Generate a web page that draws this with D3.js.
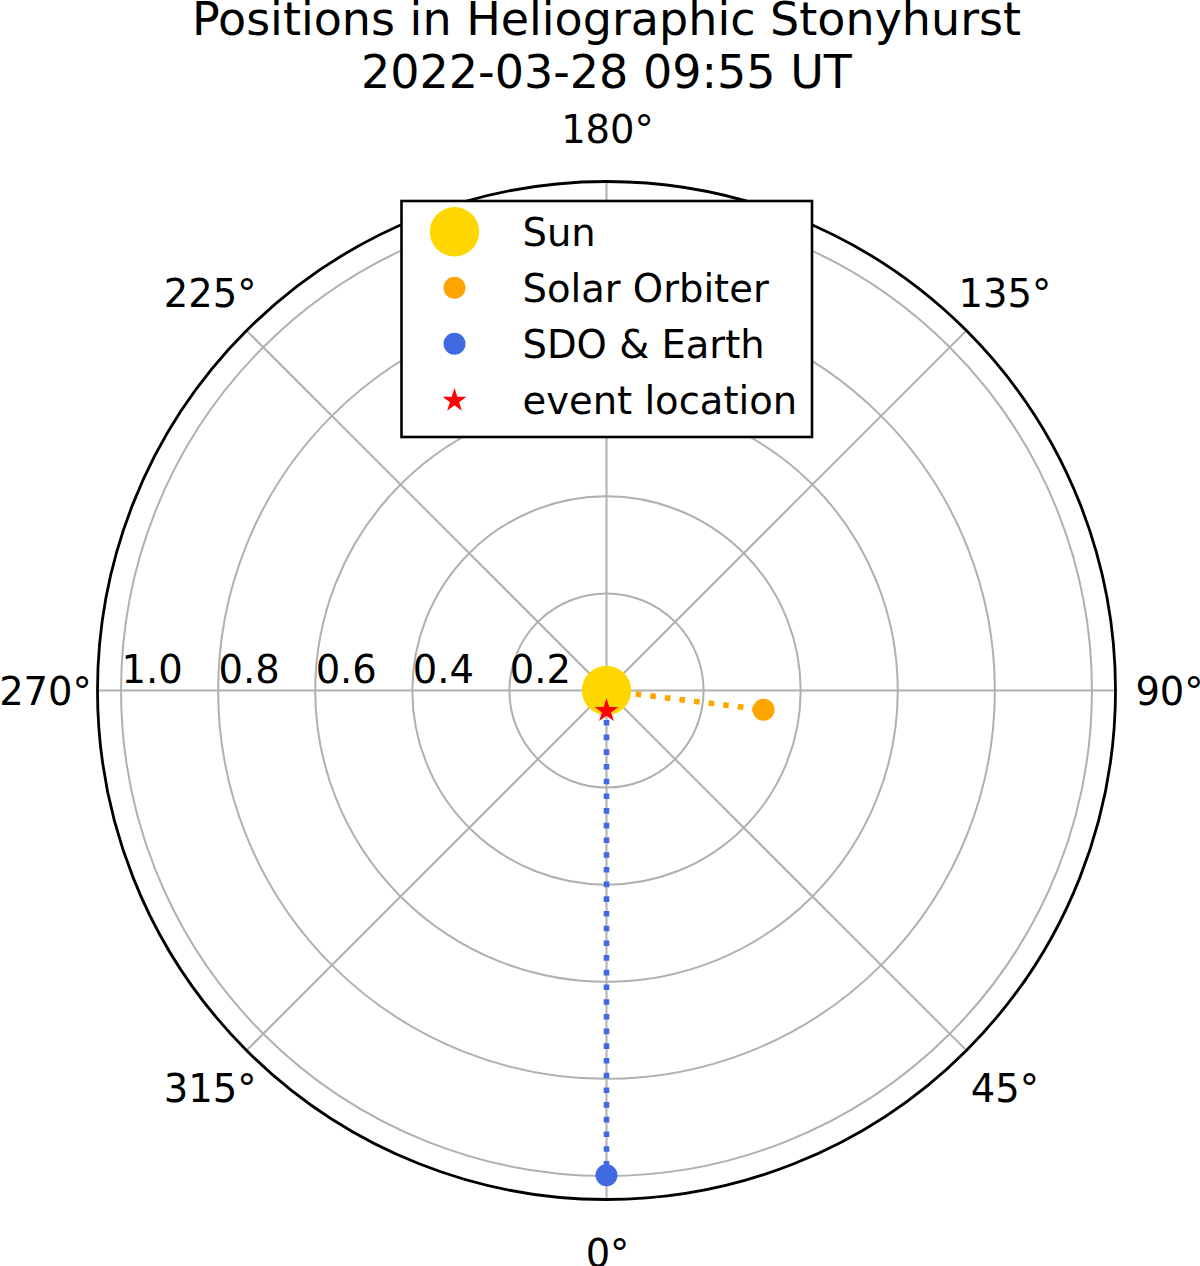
<!DOCTYPE html>
<html>
<head>
<meta charset="utf-8">
<script src="https://cdn.jsdelivr.net/npm/d3@7"></script>
<style>
  html, body { margin: 0; padding: 0; background: #fff; }
  svg { display: block; }
  text { font-family: "DejaVu Sans", sans-serif; fill: #000; }
</style>
</head>
<body>
<script>
// ---- data ----
const titleLines = ["Positions in Heliographic Stonyhurst", "2022-03-28 09:55 UT"];
const bodyNames = ["Sun", "Solar Orbiter", "SDO & Earth"];
const bodyLonDeg = [0, 83.0, 0];          // Stonyhurst longitude (deg)
const bodyDistAU = [0, 0.326, 0.9986];    // distance from Sun (AU)
const eventName = "event location";
const eventLonDeg = [0];
const eventDistAU = [0.042];
const thetaTicks = [0, 45, 90, 135, 180, 225, 270, 315];
const thetaTickLabels = ["0°", "45°", "90°", "135°", "180°", "225°", "270°", "315°"];
const rTicks = [0.2, 0.4, 0.6, 0.8, 1.0];
const rTickLabels = ["0.2", "0.4", "0.6", "0.8", "1.0"];
const rMax = 1.0485;

// ---- layout / style ----
const W = 1200, H = 1266;
const cx = 606.5, cy = 690.5, R = 509;
const colors = { "Sun": "#FFD700", "Solar Orbiter": "#FFA500", "SDO & Earth": "#4169E1", "event": "#FF0000" };
const markerR = { "Sun": 24.7, "Solar Orbiter": 11, "SDO & Earth": 11 };
const tickFont = 38.5, titleFont = 46;

const svg = d3.select("body").append("svg").attr("width", W).attr("height", H);
const g = svg.append("g").attr("transform", `translate(${cx},${cy})`);

const r = d3.scaleLinear().domain([0, rMax]).range([0, R]);
// theta zero at bottom (south), counter-clockwise
const ang = d => Math.PI - d * Math.PI / 180;
const pt = (deg, rad) => d3.pointRadial(ang(deg), rad);

// grid circles
g.selectAll("circle.rgrid").data(rTicks).join("circle")
  .attr("class", "rgrid").attr("r", d => r(d))
  .attr("fill", "none").attr("stroke", "#b0b0b0").attr("stroke-width", 2);
// spokes
g.selectAll("line.tgrid").data(thetaTicks).join("line")
  .attr("class", "tgrid")
  .attr("x1", 0).attr("y1", 0)
  .attr("x2", d => pt(d, R)[0]).attr("y2", d => pt(d, R)[1])
  .attr("stroke", "#b0b0b0").attr("stroke-width", 2);

// radial tick labels along 270°
g.selectAll("text.rlab").data(rTicks).join("text")
  .attr("class", "rlab")
  .attr("x", (d, i) => pt(270, r(d))[0] + 31)
  .attr("y", -7.5)
  .attr("text-anchor", "middle")
  .attr("font-size", tickFont)
  .text((d, i) => rTickLabels[i]);

// connecting dotted lines (Sun -> body)
const lineGen = d3.lineRadial().angle(d => ang(d[0])).radius(d => r(d[1]));
bodyNames.forEach((name, i) => {
  if (i === 0) return;
  g.append("path")
    .attr("d", lineGen([[bodyLonDeg[i], 0], [bodyLonDeg[i], bodyDistAU[i]]]))
    .attr("fill", "none").attr("stroke", colors[name]).attr("stroke-width", 5.6)
    .attr("stroke-dasharray", "5.6 9.1").attr("stroke-linecap", "butt");
});

// body markers
bodyNames.forEach((name, i) => {
  const p = pt(bodyLonDeg[i], r(bodyDistAU[i]));
  g.append("circle").attr("cx", p[0]).attr("cy", p[1]).attr("r", markerR[name])
    .attr("fill", colors[name]);
});

// star marker
function starPath(Ro) {
  const Ri = Ro * 0.381966, pts = [];
  for (let k = 0; k < 10; k++) {
    const a = k * Math.PI / 5;
    const rr = k % 2 === 0 ? Ro : Ri;
    pts.push([rr * Math.sin(a), -rr * Math.cos(a)]);
  }
  return "M" + pts.map(p => p.join(",")).join("L") + "Z";
}
eventLonDeg.forEach((lon, i) => {
  const p = pt(lon, r(eventDistAU[i]));
  g.append("path").attr("d", starPath(10.3))
    .attr("transform", `translate(${p[0]},${p[1]})`)
    .attr("fill", colors.event).attr("stroke", colors.event).attr("stroke-width", 1.4)
    .attr("stroke-linejoin", "miter");
});

// outer spine
g.append("circle").attr("r", R).attr("fill", "none").attr("stroke", "#000").attr("stroke-width", 2.8);

// theta labels
g.selectAll("text.tlab").data(thetaTicks).join("text")
  .attr("class", "tlab")
  .attr("x", d => pt(d, 562)[0] + 1)
  .attr("y", d => pt(d, 562)[1] + 0.3645 * tickFont)
  .attr("text-anchor", "middle")
  .attr("font-size", tickFont)
  .text((d, i) => thetaTickLabels[i]);

// title
svg.selectAll("text.title").data(titleLines).join("text")
  .attr("class", "title")
  .attr("x", cx).attr("y", (d, i) => 35 + i * 52.5)
  .attr("text-anchor", "middle").attr("font-size", titleFont)
  .text(d => d);

// legend
const leg = svg.append("g");
leg.append("rect").attr("x", 401.5).attr("y", 201).attr("width", 410.5).attr("height", 236)
  .attr("fill", "#fff").attr("stroke", "#000").attr("stroke-width", 2.6);
const legItems = bodyNames.concat([eventName]);
legItems.forEach((name, i) => {
  const yb = 246 + i * 56;
  const ym = yb - 14.2;
  if (name === eventName) {
    leg.append("path").attr("d", starPath(10.3))
      .attr("transform", `translate(454.5,${ym + 0.8})`)
      .attr("fill", colors.event).attr("stroke", colors.event).attr("stroke-width", 1.4);
  } else {
    leg.append("circle").attr("cx", 454.5).attr("cy", ym).attr("r", markerR[name])
      .attr("fill", colors[name]);
  }
  leg.append("text").attr("x", 522.5).attr("y", yb).attr("font-size", tickFont).text(name);
});
</script>
</body>
</html>
